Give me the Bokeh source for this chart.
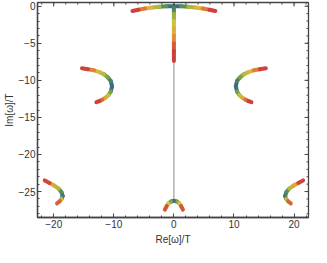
import math
from bokeh.plotting import figure
from bokeh.models import Range1d, FixedTicker
from bokeh.embed import file_html
from bokeh.resources import INLINE

# ---- data (right-hand branches; left side is the mirror) ----
arc_re = [0.0, 1.2, 2.4, 3.6, 4.8, 5.9, 6.9]
arc_im = [0.0, -0.02, -0.08, -0.17, -0.31, -0.47, -0.64]
stem_re = [0.0, 0.0, 0.0, 0.0, 0.0, 0.0, 0.0, 0.0]
stem_im = [0.0, -1.0, -2.0, -3.0, -4.0, -5.0, -6.0, -7.4]
mid_up_re = [10.3, 10.5, 11.0, 11.6, 12.4, 13.3, 14.3, 15.3]
mid_up_im = [-10.8, -10.1, -9.6, -9.2, -8.9, -8.65, -8.5, -8.37]
mid_lo_re = [10.3, 10.5, 10.9, 11.4, 11.9, 12.4, 12.9]
mid_lo_im = [-10.8, -11.5, -12.0, -12.35, -12.6, -12.8, -12.95]
low_up_re = [18.5, 18.7, 19.2, 19.9, 20.7, 21.5]
low_up_im = [-25.6, -25.1, -24.6, -24.2, -23.85, -23.5]
low_lo_re = [18.5, 18.7, 19.0, 19.45]
low_lo_im = [-25.6, -26.0, -26.3, -26.6]
bot_re = [0.0, 0.5, 0.9, 1.2, 1.5]
bot_im = [-26.25, -26.35, -26.6, -26.95, -27.45]
axis_re = [0.0, 0.0]
axis_im = [0.0, -26.3]

x_ticks = [-20, -10, 0, 10, 20]
x_minor = list(range(-22, 23, 2))
y_ticks = [0, -5, -10, -15, -20, -25]
y_minor = list(range(-28, 1, 1))

X0, X1 = -22.7, 22.4
Y0, Y1 = -28.5, 0.5

# ---- colour scale (blue at the branch start, red at the end) ----
stops = [(0.0, (58, 84, 160)), (0.12, (62, 112, 128)), (0.25, (84, 144, 80)),
         (0.4, (160, 180, 62)), (0.55, (216, 196, 64)), (0.72, (228, 150, 58)),
         (0.87, (210, 72, 56)), (1.0, (198, 58, 60))]

def cmap(t):
    t = min(max(t, 0.0), 1.0)
    for (t0, c0), (t1, c1) in zip(stops[:-1], stops[1:]):
        if t <= t1:
            f = (t - t0) / (t1 - t0) if t1 > t0 else 0
            c = [round(a + (b - a) * f) for a, b in zip(c0, c1)]
            return "#%02x%02x%02x" % tuple(c)
    return "#%02x%02x%02x" % stops[-1][1]

def branch(xs, ys, gamma=1.0):
    d = [0.0]
    for i in range(1, len(xs)):
        d.append(d[-1] + math.hypot((xs[i] - xs[i-1]) * 6.4, (ys[i] - ys[i-1]) * 8.0))
    tot = d[-1]
    segx, segy, cols = [], [], []
    for i in range(len(xs) - 1):
        tm = ((d[i] + d[i+1]) / 2 / tot) ** gamma
        segx.append([xs[i], xs[i+1]])
        segy.append([ys[i], ys[i+1]])
        cols.append(cmap(tm))
    return segx, segy, cols

def mirror(xs):
    return [-v for v in xs]

p = figure(width=311, height=247, x_range=Range1d(X0, X1), y_range=Range1d(Y0, Y1),
           output_backend="svg", toolbar_location=None,
           min_border_left=0, min_border_right=3, min_border_top=2, min_border_bottom=0)
p.xgrid.visible = False
p.ygrid.visible = False
frame_col = "#444444"
text_col = "#333333"
font = "Liberation Sans"
p.outline_line_color = frame_col
p.outline_line_width = 1.3
p.background_fill_color = "white"

# gray line on the imaginary axis
p.line(axis_re, axis_im, line_color="#a0a0a0", line_width=1.2)

branches = [
    (arc_re, arc_im, 1.0), (mirror(arc_re), arc_im, 1.0),
    (stem_re, stem_im, 0.6),
    (mid_up_re, mid_up_im, 1.0), (mid_lo_re, mid_lo_im, 1.0),
    (mirror(mid_up_re), mid_up_im, 1.0), (mirror(mid_lo_re), mid_lo_im, 1.0),
    (low_up_re, low_up_im, 1.0), (low_lo_re, low_lo_im, 1.0),
    (mirror(low_up_re), low_up_im, 1.0), (mirror(low_lo_re), low_lo_im, 1.0),
    (bot_re, bot_im, 1.0), (mirror(bot_re), bot_im, 1.0),
]
for xs, ys, g in branches:
    sx, sy, cs = branch(xs, ys, g)
    p.multi_line(sx, sy, line_color=cs, line_width=4.0, line_cap="round", line_join="round")

# ticks on the top and right frame edges (inward)
p.ray(x=x_ticks, y=[Y1] * len(x_ticks), length=4, length_units="screen",
      angle=-math.pi / 2, line_color=frame_col, line_width=1)
p.ray(x=x_minor, y=[Y1] * len(x_minor), length=2, length_units="screen",
      angle=-math.pi / 2, line_color=frame_col, line_width=1)
p.ray(x=[X1] * len(y_ticks), y=y_ticks, length=4, length_units="screen",
      angle=math.pi, line_color=frame_col, line_width=1)
p.ray(x=[X1] * len(y_minor), y=y_minor, length=2, length_units="screen",
      angle=math.pi, line_color=frame_col, line_width=1)

def minus(v):
    return str(v).replace("-", "\u2212")

def style(ax):
    ax.axis_line_color = frame_col
    ax.axis_line_width = 1.3
    ax.major_tick_line_color = frame_col
    ax.minor_tick_line_color = frame_col
    ax.major_tick_in = 4
    ax.major_tick_out = 0
    ax.minor_tick_in = 2
    ax.minor_tick_out = 0
    ax.major_label_text_font = font
    ax.major_label_text_color = text_col
    ax.major_label_text_font_size = "10px"
    ax.major_label_standoff = 2
    ax.axis_label_text_font = font
    ax.axis_label_text_color = text_col
    ax.axis_label_text_font_style = "normal"
    ax.axis_label_text_font_size = "10px"

xa = p.xaxis[0]
xa.ticker = FixedTicker(ticks=x_ticks, minor_ticks=x_minor)
xa.major_label_overrides = {v: minus(v) for v in x_ticks}
xa.axis_label = "Re[\u03c9]/T"
xa.axis_label_standoff = 3
style(xa)

ya = p.yaxis[0]
ya.ticker = FixedTicker(ticks=y_ticks, minor_ticks=y_minor)
ya.major_label_overrides = {v: minus(v) for v in y_ticks}
ya.axis_label = "Im[\u03c9]/T"
ya.axis_label_standoff = 1
style(ya)

open("out.html", "w").write(file_html(p, INLINE))
